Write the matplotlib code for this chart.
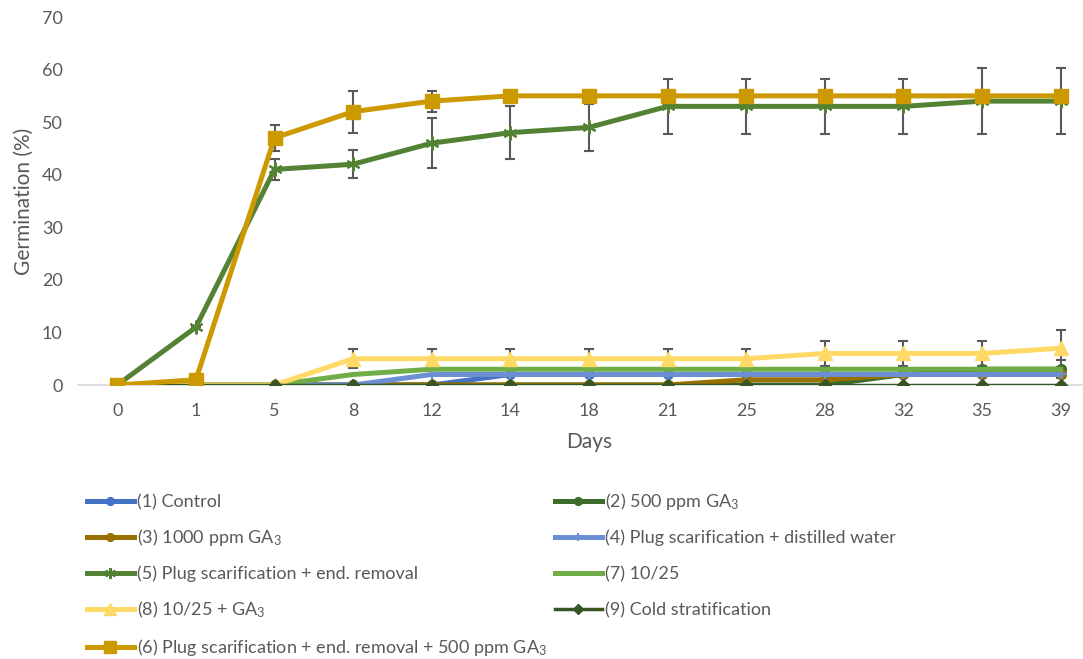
import matplotlib
matplotlib.use('Agg')
import matplotlib.pyplot as plt

plt.rcParams['font.family'] = ['Lato', 'DejaVu Sans']
plt.rcParams['mathtext.default'] = 'regular'

# data (categorical x axis)
days = ['0', '1', '5', '8', '12', '14', '18', '21', '25', '28', '32', '35', '39']

control      = [0, 0, 0, 0, 0, 2, 2, 2, 2, 2, 2, 2, 2]
ga500        = [0, 0, 0, 0, 0, 0, 0, 0, 0, 0, 2, 3, 3]
ga1000       = [0, 0, 0, 0, 0, 0, 0, 0, 1, 1, 2, 2, 2]
plug_water   = [0, 0, 0, 0, 2, 2, 2, 2, 2, 2, 2, 2, 2]
plug_end     = [0, 11, 41, 42, 46, 48, 49, 53, 53, 53, 53, 54, 54]
t1025        = [0, 0, 0, 2, 3, 3, 3, 3, 3, 3, 3, 3, 3]
t1025_ga     = [0, 0, 0, 5, 5, 5, 5, 5, 5, 6, 6, 6, 7]
cold         = [0, 0, 0, 0, 0, 0, 0, 0, 0, 0, 0, 0, 0]
plug_end_ga  = [0, 1, 47, 52, 54, 55, 55, 55, 55, 55, 55, 55, 55]

err_ga500       = [0, 0, 0, 0, 0, 0, 0, 0, 0, 0, 0, 0, 1.7]
err_plug_end    = [0, 0, 2, 2.7, 4.7, 5, 4.5, 5.3, 5.3, 5.3, 5.3, 6.3, 6.3]
err_t1025_ga    = [0, 0, 0, 1.8, 1.8, 1.8, 1.8, 1.8, 1.8, 2.4, 2.4, 2.4, 3.5]
err_plug_end_ga = [0, 0, 2.5, 4, 2, 0, 0, 0, 0, 0, 0, 0, 0]

labels = ['(1) Control', '(2) 500 ppm GA$_3$', '(3) 1000 ppm GA$_3$',
          '(4) Plug scarification + distilled water',
          '(5) Plug scarification + end. removal', '(7) 10/25',
          '(8) 10/25 + GA$_3$', '(9) Cold stratification',
          '(6) Plug scarification + end. removal + 500 ppm GA$_3$']

W, H = 1083, 659
fig = plt.figure(figsize=(W / 100, H / 100), dpi=100)
ax = fig.add_axes([78 / W, (H - 385) / H, (1100 - 78) / W, (385 - 17) / H])

x = list(range(len(days)))
grey = '#595959'

# error bars under the lines
for yv, ev in [(ga500, err_ga500), (plug_end, err_plug_end),
               (t1025_ga, err_t1025_ga), (plug_end_ga, err_plug_end_ga)]:
    ax.errorbar(x, yv, yerr=ev, fmt='none', ecolor=grey, elinewidth=1.5,
                capsize=3.5, capthick=1.5, zorder=1)

lines = []
lines += ax.plot(x, control, color='#4472C4', lw=3.6, marker='o', ms=7, zorder=2)
lines += ax.plot(x, ga500, color='#3D6B2A', lw=3.6, marker='o', ms=7, zorder=3)
lines += ax.plot(x, ga1000, color='#9A7000', lw=3.6, marker='o', ms=7, zorder=4)
lines += ax.plot(x, plug_water, color='#6B8FD2', lw=3.6, marker='+', ms=8, mew=1.5, zorder=5)
lines += ax.plot(x, plug_end, color='#548235', lw=3.6, marker=(6, 2, 0), ms=10, mew=1.5, zorder=6)
lines += ax.plot(x, t1025, color='#70AD47', lw=3.6, zorder=7)
lines += ax.plot(x, t1025_ga, color='#FFD966', lw=3.6, marker='^', ms=10, zorder=8)
lines += ax.plot(x, cold, color='#375623', lw=2.5, marker='D', ms=6, zorder=9)
lines += ax.plot(x, plug_end_ga, color='#CC9900', lw=3.6, marker='s', ms=10.5, zorder=10)

ax.set_xlim(-0.5, 12.5)
ax.set_ylim(0, 70)
ax.set_xticks(x)
ax.set_xticklabels(days)
ax.set_yticks(range(0, 71, 10))
ax.tick_params(length=0, labelsize=13, labelcolor=grey)
ax.tick_params(axis='x', pad=13)
ax.tick_params(axis='y', pad=11)
for s in ['top', 'right', 'left']:
    ax.spines[s].set_visible(False)
ax.spines['bottom'].set_color('#D9D9D9')
ax.spines['bottom'].set_linewidth(1.2)
ax.set_xlabel('Days', fontsize=15, color=grey, labelpad=9)
ax.set_ylabel('Germination (%)', fontsize=15, color=grey, labelpad=6)

# legend: each entry placed on its own (row-major, two columns)
rows = [502, 538, 574, 610, 648]
for i, line in enumerate(lines):
    xpos = 87 if i % 2 == 0 else 555
    ypos = rows[i // 2]
    fig.legend([line], [labels[i]], loc='center left',
               bbox_to_anchor=(xpos / W, (H - ypos) / H),
               frameon=False, fontsize=13, labelcolor=grey, markerscale=0.8,
               handlelength=2.6, handletextpad=0.15,
               borderpad=0, borderaxespad=0)

fig.savefig('out.png', dpi=100)
